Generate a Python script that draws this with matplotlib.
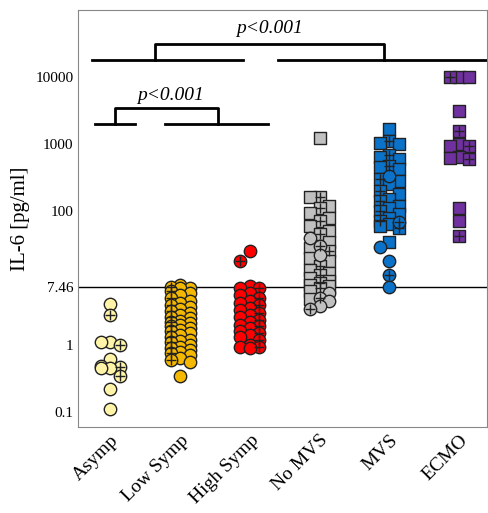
import numpy as np
import matplotlib
matplotlib.use("Agg")
import matplotlib.pyplot as plt

categories = ["Asymp", "Low Symp", "High Symp", "No MVS", "MVS", "ECMO"]
asymp = [4.1, 2.8, 1.1, 1.1, 1.0, 0.62, 0.48, 0.47, 0.45, 0.45, 0.35, 0.22, 0.11]
low_symp = [8.0, 7.3, 7.2, 7.0, 6.5, 6.0, 5.5, 5.0, 4.6, 4.3, 4.0, 3.7, 3.5, 3.2, 3.0,
            2.8, 2.6, 2.5, 2.3, 2.2, 2.1, 2.0, 1.9, 1.8, 1.7, 1.6, 1.5, 1.4, 1.3, 1.2,
            1.15, 1.1, 1.0, 0.95, 0.9, 0.85, 0.8, 0.75, 0.7, 0.65, 0.6, 0.55, 0.35]
high_symp = [25, 18, 7.5, 7.2, 7.0, 6.0, 5.5, 5.0, 4.6, 4.2, 4.0, 3.6, 3.3, 3.0, 2.8,
             2.6, 2.4, 2.2, 2.0, 1.9, 1.8, 1.6, 1.5, 1.4, 1.3, 1.2, 1.0, 0.95, 0.92, 0.9]
no_mvs_sq = [1250, 160, 160, 120, 110, 95, 80, 70, 60, 50, 45, 35, 28, 25, 20, 18,
             15, 13, 12, 11, 10, 9, 8.5, 8, 7.5, 7, 6.5, 4.8]
no_mvs_ci = [40, 30, 22, 6, 5, 4.5, 3.8, 3.5]
mvs_sq = [1700, 1100, 1050, 1000, 700, 650, 600, 480, 450, 420, 300, 280, 250, 200,
          180, 150, 140, 120, 110, 100, 90, 80, 70, 65, 60, 55, 35]
mvs_ci = [330, 68, 29, 18, 11, 7.4]
ecmo_sq = [10000, 10000, 10000, 3100, 1550, 1000, 950, 950, 650, 620, 600, 110, 72, 42]

colors = ["#fff4a8", "#f5b800", "#ff0000", "#c0c0c0", "#0a72c8", "#7030a0"]
threshold = 7.46

plt.rcParams['font.family'] = ['Liberation Serif', 'DejaVu Serif']
fig = plt.figure(figsize=(4.89, 5.13), dpi=100)
ax = fig.add_axes([0.16, 0.168, 0.836, 0.812])
ax.set_yscale('log')
ax.set_xlim(-0.46, 5.4)
ax.set_ylim(0.06, 1.0e5)

d = 0.135
def swarm(vals, x0):
    logs = np.log10(vals)
    order = np.argsort(-logs)
    cols = {0: [], -1: [], 1: []}
    xs = np.zeros(len(vals))
    for i in order:
        best, bestgap = 0, -1
        for c in (0, -1, 1):
            gap = min([abs(logs[i] - v) for v in cols[c]] + [10])
            if gap >= 0.15:
                best = c; break
            if gap > bestgap:
                best, bestgap = c, gap
        cols[best].append(logs[i])
        xs[i] = x0 + best * d
    return xs

groups = [
    (0, [(asymp, 'o')]),
    (1, [(low_symp, 'o')]),
    (2, [(high_symp, 'o')]),
    (3, [(no_mvs_sq, 's'), (no_mvs_ci, 'o')]),
    (4, [(mvs_sq, 's'), (mvs_ci, 'o')]),
    (5, [(ecmo_sq, 's')]),
]
for gi, parts in groups:
    allv = [v for p, _ in parts for v in p]
    xs = swarm(allv, gi)
    k = 0
    for vals, m in parts:
        px = xs[k:k + len(vals)]
        k += len(vals)
        ax.scatter(px, vals, s=80 if m == 'o' else 75, marker=m, c=colors[gi],
                   edgecolors='#222222', linewidths=1.0, zorder=3)
        idx = [j for j in range(len(vals)) if j % 3 == 1]
        ax.scatter(px[idx], np.array(vals)[idx], s=45, marker='+', c='#222222',
                   linewidths=1.0, zorder=4)

ax.axhline(threshold, color='black', lw=1, zorder=2)
ax.set_yticks([0.1, 1, threshold, 100, 1000, 10000])
ax.set_yticklabels(['0.1', '1', '7.46', '100', '1000', '10000'], fontsize=11)
ax.minorticks_off()
ax.tick_params(length=0)
ax.set_xticks(range(6))
ax.set_xticklabels(categories, rotation=45, ha='right', rotation_mode='anchor', fontsize=14)
ax.set_ylabel('IL-6 [pg/ml]', fontsize=15)
for s in ax.spines.values():
    s.set_color('#888888')

def px2x(p): return (p - 110) / 70.0
def py2y(p): return 10 ** ((346 - p) / 67.0)
lw = 2
ax.plot([px2x(92), px2x(243)], [py2y(61)] * 2, color='black', lw=lw, clip_on=False)
ax.plot([px2x(278), px2x(487)], [py2y(61)] * 2, color='black', lw=lw, clip_on=False)
ax.plot([px2x(155), px2x(155), px2x(385), px2x(385)], [py2y(61), py2y(45), py2y(45), py2y(61)], color='black', lw=lw)
ax.text(px2x(270), py2y(29), 'p<0.001', style='italic', fontsize=14, ha='center', va='center')
ax.plot([px2x(95), px2x(135)], [py2y(125)] * 2, color='black', lw=lw)
ax.plot([px2x(165), px2x(268)], [py2y(125)] * 2, color='black', lw=lw)
ax.plot([px2x(115), px2x(115), px2x(218), px2x(218)], [py2y(125), py2y(109), py2y(109), py2y(125)], color='black', lw=lw)
ax.text(px2x(170), py2y(96), 'p<0.001', style='italic', fontsize=14, ha='center', va='center')

fig.savefig('out.png', dpi=100)
